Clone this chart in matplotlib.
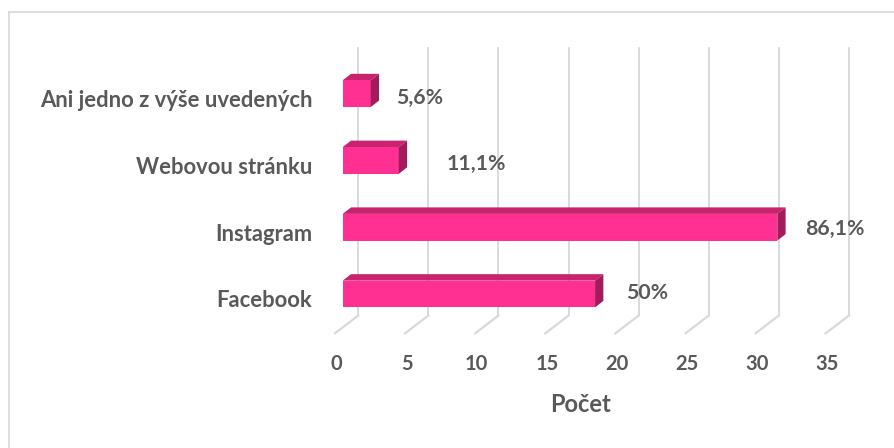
import matplotlib
matplotlib.use("Agg")
import matplotlib.pyplot as plt
from matplotlib.patches import Polygon
from matplotlib.lines import Line2D
import matplotlib.transforms as mtransforms

# ---- data ----
categories = ["Facebook", "Instagram", "Webovou stránku", "Ani jedno z výše uvedených"]
counts = [18, 31, 4, 2]
pct_labels = ["50%", "86,1%", "11,1%", "5,6%"]
xticks = [0, 5, 10, 15, 20, 25, 30, 35]
xlabel = "Počet"

# ---- style ----
FRONT = "#FF3092"
TOP = "#C8236F"
SIDE = "#A21C5B"
GRID = "#CFCFCF"
TXT = "#595959"
FONT = ["Lato", "DejaVu Sans"]

W, H = 895, 448
fig = plt.figure(figsize=(W / 100, H / 100), dpi=100)
fig.patch.set_facecolor("white")

# axes = bar front plane (pixels)
ax_l, ax_r, ax_t, ax_b = 342.7, 342.7 + 35 * 14.02, 60.3, 327.4
ax = fig.add_axes([ax_l / W, 1 - ax_b / H, (ax_r - ax_l) / W, (ax_b - ax_t) / H])
ax.set_xlim(0, 35)
ax.set_ylim(-0.5, 3.5)
ax.axis("off")

ppx = (ax_r - ax_l) / 35.0
ppy = (ax_b - ax_t) / 4.0

# offsets (pixels, up positive) relative to bar front plane
back = (15.6 / ppx, 11.9 / ppy)
front = (-7.7 / ppx, -5.9 / ppy)
depth = (8.3 / ppx, 6.5 / ppy)

# back wall gridlines + floor lines
for v in xticks:
    ax.add_line(Line2D([v + back[0], v + back[0]], [-0.5 + back[1], 3.5 + back[1]],
                       color=GRID, lw=1.1, clip_on=False, zorder=1))
    ax.add_line(Line2D([v + back[0], v + front[0]], [-0.5 + back[1], -0.5 + front[1]],
                       color="#D9D9D9", lw=1.6, clip_on=False, zorder=1))

# bars
bh = 0.4
ypos = list(range(len(categories)))
ax.barh(ypos, counts, height=bh, color=FRONT, zorder=3, clip_on=False)
for y, v in zip(ypos, counts):
    t = y + bh / 2
    b = y - bh / 2
    ax.add_patch(Polygon([(0, t), (v, t), (v + depth[0], t + depth[1]), (depth[0], t + depth[1])],
                         closed=True, facecolor=TOP, edgecolor="none", zorder=2, clip_on=False))
    ax.add_patch(Polygon([(v, b), (v + depth[0], b + depth[1]), (v + depth[0], t + depth[1]), (v, t)],
                         closed=True, facecolor=SIDE, edgecolor="none", zorder=4, clip_on=False))

# data labels
lab_dx = [31, 27.7, 47.9, 25.3]
lab_dy = [5.2, 7.7, 9.9, 10.5]
for y, v, s, dx, dy in zip(ypos, counts, pct_labels, lab_dx, lab_dy):
    tr = mtransforms.offset_copy(ax.transData, fig=fig, x=dx, y=-dy, units="dots")
    ax.text(v, y, s, transform=tr, ha="left", va="baseline", fontsize=15.3,
            fontweight="bold", color=TXT, family=FONT, zorder=5)

# category labels
cat_tr = mtransforms.blended_transform_factory(fig.transFigure, ax.transData)
cat_tr = mtransforms.offset_copy(cat_tr, fig=fig, x=0, y=-13.4, units="dots")
for y, c in zip(ypos, categories):
    fig.text(312.5 / W, y, c, transform=cat_tr, ha="right", va="baseline", fontsize=15.8,
             fontweight="bold", color=TXT, family=FONT)

# tick labels
tick_tr = mtransforms.blended_transform_factory(ax.transData, fig.transFigure)
tick_tr = mtransforms.offset_copy(tick_tr, fig=fig, x=1.5, y=0, units="dots")
for v in xticks:
    ax.text(v + front[0], 1 - 370 / H, str(v), transform=tick_tr, ha="center", va="baseline",
            fontsize=14.5, fontweight="bold", color=TXT, family=FONT, clip_on=False)

fig.text(581 / W, 1 - 411.7 / H, xlabel, ha="center", va="baseline", fontsize=17,
         fontweight="bold", color=TXT, family=FONT)

# chart border
fig.add_artist(Line2D([8.5 / W, 8.5 / W], [0, 1 - 12.5 / H], color="#D9D9D9", lw=1.2,
                      transform=fig.transFigure))
fig.add_artist(Line2D([8.5 / W, 1], [1 - 12.5 / H, 1 - 12.5 / H], color="#D9D9D9", lw=1.2,
                      transform=fig.transFigure))

fig.savefig("out.png", dpi=100, facecolor="white")
